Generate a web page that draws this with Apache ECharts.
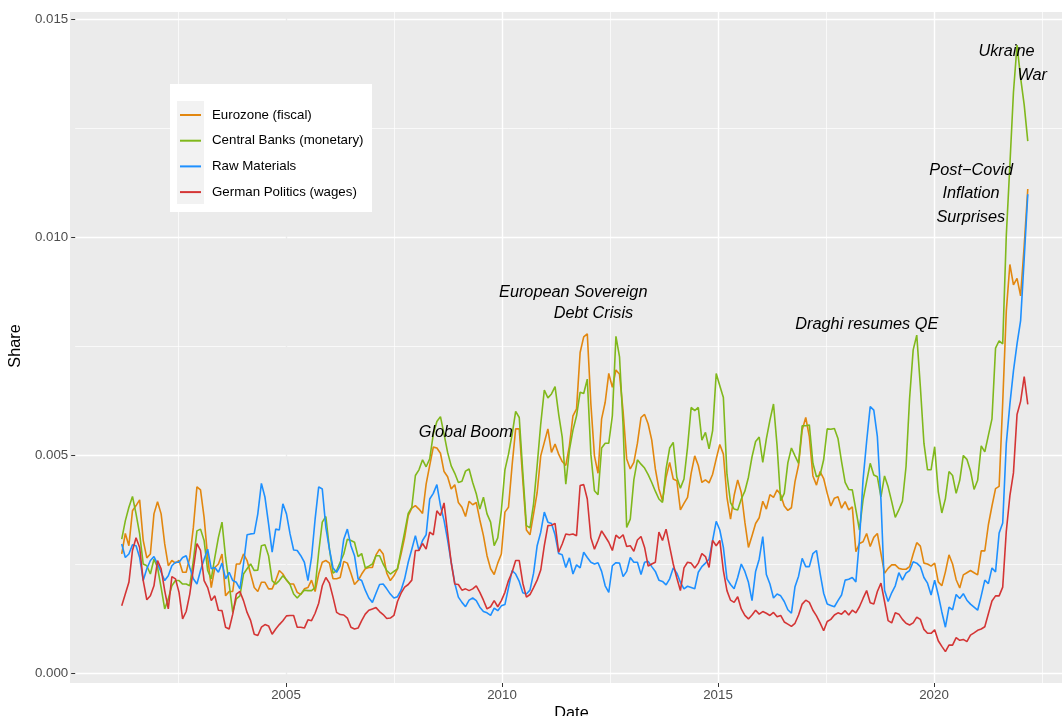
<!DOCTYPE html>
<html>
<head>
<meta charset="utf-8">
<script src="https://cdn.jsdelivr.net/npm/echarts/dist/echarts.min.js"></script>
<style>
html,body{margin:0;padding:0;background:#ffffff;}
#chart{width:1062px;height:716px;}
</style>
</head>
<body>
<div id="chart"></div>
<script>
// ---- data -------------------------------------------------------------
// monthly observations, first one is February 2001
const startYear = 2001;
const startMonth = 2;
const seriesNames = ['Eurozone (fiscal)', 'Central Banks (monetary)', 'Raw Materials', 'German Politics (wages)'];
const seriesColors = ['#E2870F', '#80B81C', '#1E90FF', '#D43535'];
// values in thousandths of "Share"
const eurozone = [
2.73,3.20,2.92,3.72,3.84,3.97,3.04,2.64,2.73,3.65,
3.93,3.65,2.96,2.46,2.58,2.52,2.58,2.31,2.31,2.65,
3.34,4.27,4.20,3.57,2.65,1.96,2.42,2.50,2.73,1.77,
1.87,1.87,2.50,2.50,2.73,2.58,2.27,1.96,1.87,2.08,
2.08,1.93,1.93,2.12,2.35,2.27,2.13,2.04,2.04,1.85,
1.80,1.93,1.96,2.13,1.87,2.27,2.54,2.58,2.52,2.16,
2.16,2.19,2.56,2.52,2.29,2.03,2.12,2.27,2.39,2.42,
2.42,2.71,2.84,2.73,2.29,2.12,2.23,2.39,2.73,3.11,
3.61,3.78,3.84,3.76,3.66,4.33,4.76,5.18,5.16,5.04,
4.62,4.50,4.22,4.32,3.91,3.80,3.59,3.94,3.86,3.91,
3.51,3.15,2.69,2.39,2.26,2.52,2.73,3.69,3.80,4.76,
5.60,5.60,4.41,3.28,3.17,3.65,4.14,4.98,5.29,5.60,
5.06,5.25,5.02,4.85,4.76,5.21,5.90,6.06,7.35,7.71,
7.78,6.17,4.98,4.58,5.83,6.21,6.87,6.55,6.95,6.85,
6.00,4.91,4.68,4.83,5.27,5.86,5.93,5.71,5.34,4.68,
4.22,3.95,4.49,4.83,4.45,4.41,3.74,3.89,4.03,4.58,
4.98,4.76,4.37,4.43,4.36,4.56,4.91,5.24,5.02,4.03,
3.53,4.07,4.43,4.14,3.46,2.88,3.15,3.43,3.56,3.94,
3.76,4.09,4.03,4.20,4.09,3.83,3.73,3.79,4.39,4.77,
5.57,5.86,5.42,4.52,4.31,4.62,4.46,4.12,3.83,4.01,
4.04,3.78,3.93,3.74,3.81,2.78,2.97,3.01,3.20,2.90,
3.11,3.20,2.74,2.29,2.40,2.48,2.48,2.40,2.38,2.38,
2.44,2.73,2.99,2.91,2.52,2.50,2.45,2.52,2.09,2.00,
2.32,2.71,2.50,2.14,1.95,2.25,2.30,2.35,2.30,2.25,
2.80,2.80,3.40,3.83,4.23,4.28,6.20,8.30,9.37,8.90,
9.05,8.65,9.80,11.10
];
const centralBanks = [
3.07,3.49,3.80,4.05,3.65,3.19,2.50,2.46,2.27,2.61,
2.42,1.96,1.47,1.70,2.00,2.12,2.12,2.04,2.04,2.00,
2.58,3.26,3.30,3.04,2.35,2.16,2.65,3.11,3.46,2.65,
2.04,1.39,1.70,1.77,2.27,2.39,2.50,2.35,2.36,2.92,
2.94,2.69,2.12,2.04,2.12,2.23,2.14,2.03,1.81,1.72,
1.81,1.90,1.89,1.89,1.96,2.77,3.46,3.59,2.84,2.29,
2.35,2.54,2.73,3.07,3.04,3.00,2.67,2.74,2.41,2.45,
2.50,2.69,2.69,2.50,2.35,2.27,2.33,2.39,2.82,3.23,
3.66,3.80,4.53,4.66,4.89,4.73,4.91,5.48,5.77,5.88,
5.48,5.06,4.75,4.58,4.37,4.40,4.63,4.68,4.37,4.11,
3.76,4.03,3.65,3.46,2.92,3.10,3.72,4.66,5.02,5.47,
6.00,5.86,4.60,3.38,3.33,3.88,4.76,5.71,6.49,6.31,
6.40,6.57,5.94,5.41,4.33,5.11,5.57,5.90,6.44,6.41,
6.74,5.02,4.18,4.09,5.16,5.27,5.27,5.90,7.72,7.25,
5.67,3.34,3.53,4.43,4.89,4.79,4.70,4.55,4.37,4.17,
3.99,3.91,4.68,5.16,5.29,4.49,4.24,4.45,5.18,6.09,
6.02,6.09,5.34,5.52,5.14,5.56,6.87,6.59,6.32,4.56,
3.91,3.76,3.74,3.99,4.17,4.49,4.96,5.31,5.41,4.83,
5.37,5.80,6.17,5.21,3.95,4.12,4.82,5.16,4.98,4.81,
5.67,5.67,5.69,4.81,4.50,4.54,4.89,5.60,5.59,5.61,
5.38,4.85,4.37,4.21,4.20,3.74,3.28,3.97,4.39,4.81,
4.54,4.50,4.04,4.52,4.27,3.93,3.57,3.74,3.94,4.73,
6.30,7.41,7.75,6.57,5.27,4.66,4.66,5.19,4.16,3.67,
4.00,4.62,4.53,4.12,4.42,4.99,4.90,4.64,4.21,4.42,
5.21,5.07,5.45,5.83,7.45,7.62,7.55,10.03,11.65,13.32,
14.40,13.65,13.03,12.20
];
const rawMaterials = [
2.96,2.65,2.73,2.94,2.92,2.65,2.12,2.39,2.58,2.67,
2.50,2.31,2.12,2.23,2.46,2.54,2.54,2.65,2.69,2.42,
2.16,2.04,2.35,2.61,2.84,2.39,2.42,2.31,2.52,2.16,
2.31,2.12,2.08,1.93,2.50,3.17,3.19,3.20,3.65,4.35,
4.03,3.42,2.77,3.30,3.28,3.88,3.65,3.19,2.82,2.81,
2.69,2.54,2.12,2.65,3.53,4.27,4.22,3.34,2.84,2.41,
2.31,2.46,3.07,3.30,2.92,2.69,2.16,2.12,1.90,1.72,
1.62,1.83,2.03,2.04,1.93,1.81,1.72,1.75,1.90,2.16,
2.54,2.84,3.15,2.81,3.04,3.17,3.99,4.12,4.32,3.84,
3.50,3.05,2.54,2.06,1.74,1.62,1.52,1.67,1.72,1.66,
1.51,1.41,1.38,1.32,1.49,1.43,1.54,1.57,1.96,2.35,
2.27,2.10,1.84,1.81,1.90,2.29,2.92,3.23,3.69,3.46,
3.43,3.17,2.74,2.71,2.42,2.64,2.27,2.48,2.41,2.77,
2.65,2.54,2.50,2.53,2.33,2.00,1.85,2.46,2.53,2.52,
2.21,2.33,2.65,2.54,2.54,2.26,2.54,2.56,2.44,2.33,
2.13,2.10,2.02,2.16,2.41,2.29,2.08,1.93,1.99,1.96,
1.93,2.31,2.44,2.52,2.61,3.04,3.48,3.28,2.88,2.16,
2.03,1.93,2.19,2.50,2.33,2.08,1.66,2.33,2.61,3.13,
2.26,2.04,1.72,1.81,1.77,1.64,1.45,1.37,1.98,2.22,
2.63,2.44,2.44,2.74,2.81,2.29,1.83,1.58,1.55,1.52,
1.66,1.79,2.13,2.15,2.19,2.09,3.05,4.43,5.31,6.11,
6.03,5.42,3.97,1.90,1.64,1.84,2.00,2.30,2.13,2.29,
2.35,2.55,2.52,2.44,2.19,2.06,1.79,2.13,1.79,1.40,
1.05,1.51,1.45,1.80,1.71,1.82,1.67,1.58,1.51,1.44,
1.77,2.13,2.05,2.41,2.32,3.21,3.44,5.26,6.16,6.93,
7.55,8.08,9.50,10.98
];
const germanPolitics = [
1.54,1.81,2.08,2.81,3.10,2.88,2.12,1.68,1.77,2.00,
2.58,2.39,1.89,1.47,2.21,2.16,1.85,1.24,1.41,1.81,
2.39,2.97,2.81,2.12,1.96,1.66,1.77,1.44,1.43,1.05,
1.01,1.35,1.81,1.87,1.66,1.39,1.20,0.89,0.86,1.05,
1.11,1.08,0.89,1.01,1.11,1.20,1.31,1.32,1.32,1.05,
1.05,1.03,1.22,1.20,1.37,1.60,2.00,2.19,2.06,1.74,
1.39,1.34,1.33,1.26,1.05,1.01,1.03,1.20,1.35,1.44,
1.47,1.50,1.41,1.34,1.25,1.26,1.32,1.64,1.83,1.97,
2.03,2.13,2.81,2.81,2.97,2.84,3.23,3.17,3.72,3.61,
3.90,3.21,2.53,2.04,2.03,1.90,1.93,1.89,1.93,2.00,
1.85,1.67,1.47,1.52,1.66,1.52,1.66,1.85,2.12,2.31,
2.58,2.58,2.06,1.74,1.80,1.96,2.13,2.36,2.92,3.38,
3.39,3.43,2.77,2.96,3.19,3.17,3.19,3.15,4.30,4.32,
3.99,3.10,2.84,3.04,3.26,3.13,3.00,2.81,3.16,3.09,
3.17,2.90,2.92,2.79,3.05,3.13,2.88,2.45,2.50,2.54,
3.23,3.04,3.30,2.90,2.50,2.18,1.89,2.41,2.54,2.52,
2.41,2.52,2.74,2.67,2.42,3.04,2.92,3.04,2.35,1.89,
1.67,1.62,1.75,1.47,1.32,1.24,1.33,1.44,1.35,1.41,
1.37,1.32,1.39,1.29,1.32,1.17,1.12,1.07,1.14,1.33,
1.58,1.67,1.62,1.44,1.31,1.15,0.97,1.18,1.23,1.33,
1.38,1.35,1.43,1.33,1.44,1.38,1.52,1.71,1.89,1.61,
1.58,1.87,2.06,1.64,1.20,1.15,1.38,1.35,1.23,1.14,
1.10,1.15,1.28,1.23,1.00,0.91,0.91,0.99,0.74,0.61,
0.49,0.64,0.64,0.81,0.75,0.77,0.72,0.87,0.92,0.98,
1.01,1.06,1.36,1.65,1.77,1.77,1.97,3.25,4.06,4.59,
5.93,6.23,6.80,6.16
];
const xTickValues = [2005, 2010, 2015, 2020];
// annotation text lines, anchored at [year, share]
const annotationTexts = ['Global Boom', 'European Sovereign', 'Debt Crisis', 'Draghi resumes QE', 'Post\u2212Covid', 'Inflation', 'Surprises', 'Ukraine', 'War'];
const annotationYears = [2009.09, 2011.59, 2012.06, 2018.42, 2020.85, 2020.845, 2020.84, 2021.67, 2022.27];
const annotationShares = [0.005511, 0.008739, 0.008241, 0.007995, 0.011537, 0.010993, 0.010459, 0.014264, 0.013713];

// ---- build ------------------------------------------------------------
const FONT = 'Liberation Sans, Arial, Helvetica, sans-serif';
const X_MIN = 2000;
const X_MAX = 2000 + 992 / 43.2;   // panel is cut at the right edge of the picture
const allValues = [eurozone, centralBanks, rawMaterials, germanPolitics];
const nPoints = eurozone.length;
const xYears = [];
for (let i = 0; i < nPoints; i++) {
  const m = startMonth - 1 + i;
  xYears.push(startYear + Math.floor(m / 12) + (m % 12) / 12);
}

const chart = echarts.init(document.getElementById('chart'), null, { renderer: 'canvas' });

const series = allValues.map((vals, k) => ({
  name: seriesNames[k],
  type: 'line',
  xAxisIndex: 2,
  yAxisIndex: 1,
  data: vals.map((v, i) => [xYears[i], v / 1000]),
  symbol: 'none',
  showSymbol: false,
  clip: false,
  lineStyle: { color: seriesColors[k], width: 1.6 },
  itemStyle: { color: seriesColors[k] },
  emphasis: { disabled: true },
  animation: false
}));

const W = '#ffffff', P = '#EBEBEB';
chart.setOption({
  animation: false,
  backgroundColor: '#ffffff',
  textStyle: { fontFamily: FONT },
  grid: [
    { // full panel (background + vertical grid lines)
      left: 70, right: 0, top: 12, bottom: 33,
      show: true, backgroundColor: P, borderWidth: 0, containLabel: false
    },
    { // data region 0 .. 0.015
      left: 70, right: 0, top: 19, bottom: 43,
      show: false, containLabel: false
    }
  ],
  xAxis: [
    { // minor vertical grid lines (every 2.5 years)
      gridIndex: 0, type: 'value', position: 'bottom', offset: 0,
      min: X_MIN, max: X_MAX, interval: 2.5,
      axisLine: { show: false }, axisTick: { show: false }, axisLabel: { show: false },
      splitLine: { show: true, lineStyle: { width: 0.7,
        color: [P, W, W, W, W, W, W, W, W, W, P] } }
    },
    { // major vertical grid lines, ticks and labels
      gridIndex: 0, type: 'value', position: 'bottom', offset: 0,
      min: X_MIN, max: X_MAX, interval: 5,
      axisLine: { show: false },
      axisTick: { show: true, customValues: xTickValues, length: 4, lineStyle: { color: '#333333', width: 1 } },
      axisLabel: { customValues: xTickValues, color: '#4D4D4D', fontSize: 13.3, fontFamily: FONT, margin: 6,
        formatter: v => String(v) },
      splitLine: { show: true, lineStyle: { width: 1.4, color: [P, W, W, W, W, P] } }
    },
    { gridIndex: 1, type: 'value', position: 'bottom', min: X_MIN, max: X_MAX, show: false }
  ],
  yAxis: [
    { gridIndex: 0, type: 'value', min: 0, max: 1, show: false },
    {
      gridIndex: 1, type: 'value', position: 'left', min: 0, max: 0.015, interval: 0.005,
      axisLine: { show: false },
      axisTick: { show: true, length: 4, lineStyle: { color: '#333333', width: 1 } },
      axisLabel: { color: '#4D4D4D', fontSize: 13.3, fontFamily: FONT, margin: 7,
        formatter: v => v.toFixed(3) },
      splitLine: { show: true, lineStyle: { color: W, width: 1.4 } },
      minorTick: { show: false, splitNumber: 2 },
      minorSplitLine: { show: true, lineStyle: { color: W, width: 0.7 } },
      name: 'Share', nameLocation: 'middle', nameGap: 36,
      nameTextStyle: { color: '#000000', fontSize: 16.3, fontFamily: FONT }
    }
  ],
  legend: {
    data: seriesNames,
    orient: 'vertical',
    left: 180, top: 107,
    padding: 0,
    icon: 'rect',
    itemWidth: 21, itemHeight: 2,
    itemGap: 9.7,
    itemStyle: { borderWidth: 0 },
    selectedMode: false,
    z: 6,
    textStyle: { color: '#000000', fontSize: 13.3, fontFamily: FONT, lineHeight: 16, padding: [0, 0, 0, 6] }
  },
  graphic: [
    { type: 'rect', id: 'legendBox', z: 1, silent: true, shape: { x: 170, y: 84, width: 202, height: 128 }, style: { fill: '#ffffff' } },
    { type: 'rect', id: 'legendKeys', z: 2, silent: true, shape: { x: 177, y: 101, width: 27, height: 103 }, style: { fill: '#F2F2F2' } },
    { type: 'text', id: 'xName', z: 3, silent: true, x: 571.5, y: 714,
      style: { text: 'Date', fill: '#000000', font: '16.3px ' + FONT, textAlign: 'center', textVerticalAlign: 'middle' } }
  ],
  series: series
});

// annotations positioned through the chart's own scales
const annGraphics = annotationTexts.map((t, i) => {
  const p = chart.convertToPixel({ xAxisIndex: 2, yAxisIndex: 1 }, [annotationYears[i], annotationShares[i]]);
  return {
    type: 'text', id: 'ann' + i, z: 10, silent: true, x: p[0], y: p[1],
    style: { text: t, fill: '#000000', font: 'italic 16.3px ' + FONT, textAlign: 'center', textVerticalAlign: 'middle' }
  };
});
chart.setOption({ graphic: annGraphics });
</script>
</body>
</html>
